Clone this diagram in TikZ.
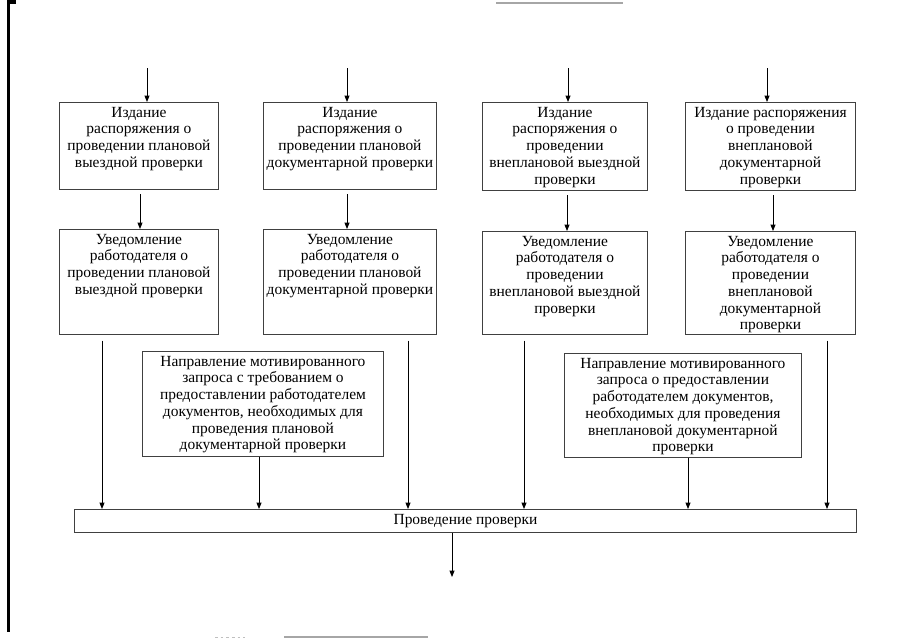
\documentclass[tikz,border=0pt]{standalone}
\usepackage{fontspec}
\setmainfont{Liberation Serif}
\usetikzlibrary{arrows.meta}

% fixed-size box text, set from the top
\newcommand{\blk}[3]{\parbox[c][#2][t]{#1}{\centering\rule{0pt}{10.5pt}#3}}

\begin{document}
\begin{tikzpicture}[x=0.025cm, y=-0.025cm, font=\fontsize{11}{11.9}\selectfont,
  blockbox/.style={draw=black!75, line width=0.6pt, inner sep=0pt, anchor=north west},
  arr/.style={-{Triangle[length=4.5pt,width=3.5pt]}, line width=0.6pt}]
\useasboundingbox (0,0) rectangle (905,640);
% ---------------- page edge (scan) ----------------
\draw[line width=2.2pt] (16,2) -- (8.5,2) -- (8.5,632);
\draw[black!35, line width=0.8pt] (496,3) -- (623,3);
\draw[black!35, line width=0.8pt] (284,637) -- (428,637);
\draw[black!25, line width=0.5pt, dash pattern=on 2pt off 2pt] (215,637) -- (245,637);
% ---------------- row 1: orders ----------------
\node[blockbox] (iz1) at (59,102)
  {\blk{3.975cm}{2.175cm}{Издание\\распоряжения о\\проведении плановой\\выездной проверки}};
\node[blockbox] (iz2) at (263,102)
  {\blk{4.325cm}{2.175cm}{Издание\\распоряжения о\\проведении плановой\\документарной проверки}};
\node[blockbox] (iz3) at (482,102)
  {\blk{4.125cm}{2.2cm}{Издание\\распоряжения о\\проведении\\внеплановой выездной\\проверки}};
\node[blockbox] (iz4) at (685,102)
  {\blk{4.25cm}{2.2cm}{Издание распоряжения\\о проведении\\внеплановой\\документарной\\проверки}};
% ---------------- row 2: notices ----------------
\node[blockbox] (uv1) at (59,229)
  {\blk{3.975cm}{2.625cm}{Уведомление\\работодателя о\\проведении плановой\\выездной проверки}};
\node[blockbox] (uv2) at (263,229)
  {\blk{4.325cm}{2.625cm}{Уведомление\\работодателя о\\проведении плановой\\документарной проверки}};
\node[blockbox] (uv3) at (482,231)
  {\blk{4.125cm}{2.575cm}{Уведомление\\работодателя о\\проведении\\внеплановой выездной\\проверки}};
\node[blockbox] (uv4) at (685,231)
  {\blk{4.25cm}{2.575cm}{Уведомление\\работодателя о\\проведении\\внеплановой\\документарной\\проверки}};
% ---------------- requests ----------------
\node[blockbox] (napL) at (142,351)
  {\blk{6.025cm}{2.625cm}{Направление мотивированного\\запроса с требованием о\\предоставлении работодателем\\документов, необходимых для\\проведения плановой\\документарной проверки}};
\node[blockbox] (napR) at (564,353)
  {\blk{5.925cm}{2.6cm}{Направление мотивированного\\запроса о предоставлении\\работодателем документов,\\необходимых для проведения\\внеплановой документарной\\проверки}};
% ---------------- inspection ----------------
\node[blockbox, minimum width=19.55cm, minimum height=0.575cm] (pr) at (74,509) {};
\node (prtxt) at (pr.center) {Проведение проверки};
% ---------------- arrows ----------------
\coordinate (in1) at (147,68);
\coordinate (in2) at (347,68);
\coordinate (in3) at (568,68);
\coordinate (in4) at (767,68);
\draw[arr] (in1) -- (in1 |- iz1.north);
\draw[arr] (in2) -- (in2 |- iz2.north);
\draw[arr] (in3) -- (in3 |- iz3.north);
\draw[arr] (in4) -- (in4 |- iz4.north);
% orders -> notices
\draw[arr] ([yshift=-3pt]140,0 |- iz1.south) -- (140,0 |- uv1.north);
\draw[arr] ([yshift=-3pt]347,0 |- iz2.south) -- (347,0 |- uv2.north);
\draw[arr] ([yshift=-3pt]567,0 |- iz3.south) -- (567,0 |- uv3.north);
\draw[arr] ([yshift=-3pt]773,0 |- iz4.south) -- (773,0 |- uv4.north);
% notices, requests -> inspection
\draw[arr] ([yshift=-4pt]102,0 |- uv1.south) -- (102,0 |- pr.north);
\draw[arr] ([yshift=-4pt]408,0 |- uv2.south) -- (408,0 |- pr.north);
\draw[arr] ([yshift=-4pt]524,0 |- uv3.south) -- (524,0 |- pr.north);
\draw[arr] ([yshift=-4pt]827,0 |- uv4.south) -- (827,0 |- pr.north);
\draw[arr] (259,0 |- napL.south) -- (259,0 |- pr.north);
\draw[arr] (688,0 |- napR.south) -- (688,0 |- pr.north);
\coordinate (out) at (452,577);
\draw[arr] (452,0 |- pr.south) -- (out);
\end{tikzpicture}
\end{document}
